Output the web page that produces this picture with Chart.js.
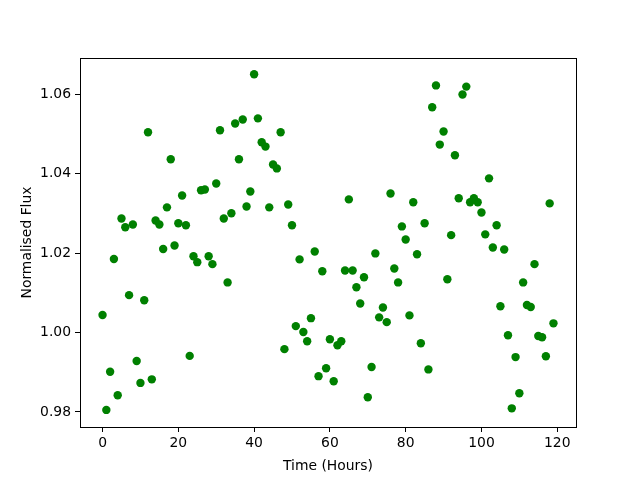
<!DOCTYPE html>
<html>
<head>
<meta charset="utf-8">
<script src="https://cdn.jsdelivr.net/npm/chart.js@4.4.0/dist/chart.umd.min.js"></script>
<style>
    html, body { margin: 0; padding: 0; background: #fff; }
    #wrap { width: 640px; height: 480px; }
</style>
</head>
<body>
<div id="wrap"><canvas id="flux-scatter"></canvas></div>
<script>
// Hours 0..119, normalised flux
const hours = Array.from({ length: 120 }, (_, i) => i);
const flux = [
    1.0044, 0.9805, 0.9901, 1.0185, 0.9842, 1.0287, 1.0265, 1.0094, 1.0272, 0.9928,
    0.9873, 1.0081, 1.0504, 0.9882, 1.0282, 1.0272, 1.0210, 1.0315, 1.0436, 1.0219,
    1.0275, 1.0345, 1.0270, 0.9941, 1.0192, 1.0177, 1.0358, 1.0360, 1.0192, 1.0172,
    1.0375, 1.0509, 1.0287, 1.0126, 1.0300, 1.0526, 1.0436, 1.0536, 1.0317, 1.0355,
    1.0650, 1.0539, 1.0479, 1.0468, 1.0315, 1.0423, 1.0413, 1.0504, 0.9958, 1.0322,
    1.0270, 1.0016, 1.0184, 1.0001, 0.9978, 1.0036, 1.0204, 0.9890, 1.0154, 0.9910,
    0.9983, 0.9877, 0.9968, 0.9978, 1.0156, 1.0335, 1.0156, 1.0114, 1.0073, 1.0139,
    0.9837, 0.9913, 1.0199, 1.0038, 1.0063, 1.0026, 1.0350, 1.0161, 1.0126, 1.0267,
    1.0234, 1.0043, 1.0328, 1.0197, 0.9973, 1.0275, 0.9907, 1.0567, 1.0622, 1.0473,
    1.0506, 1.0134, 1.0245, 1.0446, 1.0338, 1.0599, 1.0619, 1.0328, 1.0338, 1.0328,
    1.0302, 1.0247, 1.0388, 1.0214, 1.0270, 1.0066, 1.0209, 0.9993, 0.9809, 0.9938,
    0.9847, 1.0126, 1.0069, 1.0064, 1.0172, 0.9991, 0.9988, 0.9940, 1.0325, 1.0023
];
const xTicks = [0, 20, 40, 60, 80, 100, 120];
const yTicks = [0.98, 1.00, 1.02, 1.04, 1.06];

const font = { family: "'DejaVu Sans', sans-serif", size: 13.9 };

// full black frame around the plot area
const frame = {
    id: 'frame',
    afterDraw(chart) {
        const { ctx, chartArea: a } = chart;
        ctx.save();
        ctx.strokeStyle = '#000';
        ctx.lineWidth = 1;
        ctx.strokeRect(Math.round(a.left) + 0.5, Math.round(a.top) + 0.5,
            Math.round(a.right - a.left), Math.round(a.bottom - a.top));
        ctx.restore();
    }
};

new Chart(document.getElementById('flux-scatter'), {
    type: 'scatter',
    data: {
        datasets: [{
            label: 'Flux',
            data: hours.map((h, i) => ({ x: h, y: flux[i] })),
            backgroundColor: '#008000',
            borderColor: '#008000',
            borderWidth: 0,
            pointRadius: 4.2
        }]
    },
    options: {
        responsive: true,
        maintainAspectRatio: false,
        animation: false,
        devicePixelRatio: 1,
        layout: { padding: { left: 19, top: 58, right: 64, bottom: 0 } },
        scales: {
            x: {
                type: 'linear',
                min: -5.95,
                max: 124.95,
                afterBuildTicks: s => { s.ticks = xTicks.map(v => ({ value: v })); },
                afterFit: s => { s.height = 53; },
                grid: { drawOnChartArea: false, tickLength: 5, tickColor: '#000', color: '#000' },
                border: { display: false },
                ticks: { color: '#000', font, padding: 3, maxRotation: 0, callback: v => String(v) },
                title: { display: true, text: 'Time (Hours)', color: '#000', font, padding: { top: 0, bottom: 5 } }
            },
            y: {
                type: 'linear',
                min: 0.9762,
                max: 1.0691,
                afterBuildTicks: s => { s.ticks = yTicks.map(v => ({ value: v })); },
                afterFit: s => { s.width = 61; },
                grid: { drawOnChartArea: false, tickLength: 5, tickColor: '#000', color: '#000' },
                border: { display: false },
                ticks: { color: '#000', font, padding: 4, callback: v => Number(v).toFixed(2) },
                title: { display: true, text: 'Normalised Flux', color: '#000', font, padding: { top: 0, bottom: 4 } }
            }
        },
        plugins: {
            legend: { display: false },
            tooltip: { enabled: false }
        }
    },
    plugins: [frame]
});
</script>
</body>
</html>
